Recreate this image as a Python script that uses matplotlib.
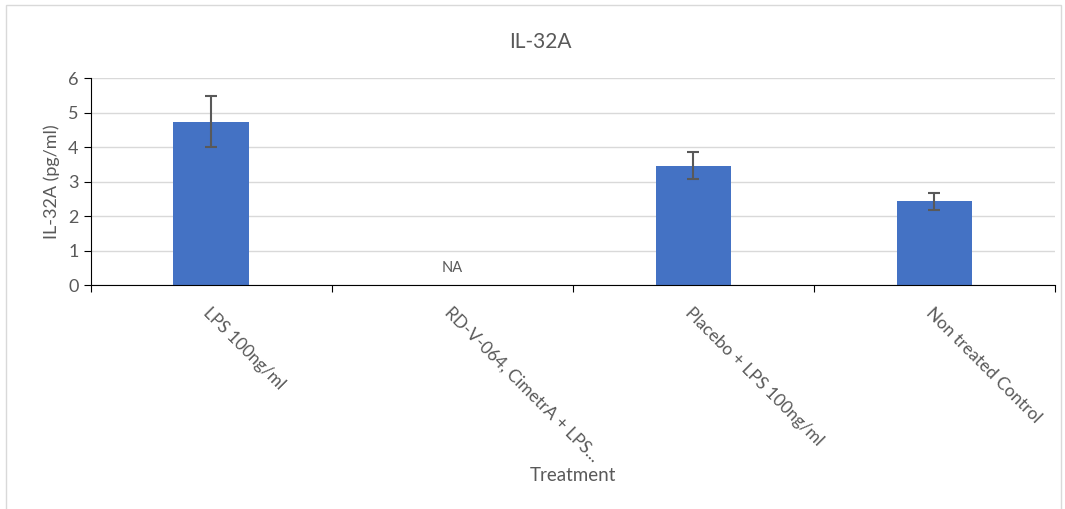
import numpy as np
import matplotlib.pyplot as plt
from matplotlib.patches import Rectangle

plt.rcParams["font.family"] = ["Lato", "DejaVu Sans"]

categories = ["LPS 100ng/ml", "RD-V-064, CimetrA + LPS...",
              "Placebo + LPS 100ng/ml", "Non treated Control"]
values = [4.74, np.nan, 3.46, 2.43]
errors = [0.75, np.nan, 0.40, 0.25]
na_label = "NA"

grey = "#595959"
bar_colour = "#4472c4"


def main():
    fig = plt.figure(figsize=(10.65, 5.09), dpi=100)
    ax = fig.add_axes([0.0854, 0.44, 0.9052, 0.4067])

    x = np.arange(len(categories))
    ax.bar(x, values, width=0.315, color=bar_colour, zorder=2)
    ax.errorbar(x, values, yerr=errors, fmt='none', ecolor=grey,
                elinewidth=1.5, capsize=4, capthick=1.5, zorder=3)
    for i, v in enumerate(values):
        if np.isnan(v):
            ax.text(x[i], 0.5, na_label, ha='center', va='center',
                    fontsize=10.5, color=grey)

    ax.set_xlim(-0.5, len(categories) - 0.5)
    ax.set_ylim(0, 6)
    ax.set_yticks(range(7))
    ax.yaxis.grid(True, color='#d9d9d9', linewidth=1.0, zorder=0)
    ax.set_axisbelow(True)
    for s in ['top', 'right']:
        ax.spines[s].set_visible(False)
    ax.spines['left'].set_color('black')
    ax.spines['bottom'].set_color('black')

    # category boundary ticks on x, labels on centres
    ax.set_xticks(np.arange(-0.5, len(categories)), minor=False)
    ax.set_xticklabels([])
    ax.set_xticks(x, minor=True)
    ax.set_xticklabels(categories, minor=True, rotation=-45, ha='left',
                       va='top', rotation_mode='anchor', fontsize=12.5,
                       color=grey)
    ax.tick_params(axis='x', which='major', length=5, color='black')
    ax.tick_params(axis='x', which='minor', length=0, pad=14)
    ax.tick_params(axis='y', length=5, color='black', labelsize=13,
                   labelcolor=grey, pad=4)

    ax.set_ylabel('IL-32A (pg/ml)', fontsize=13, color=grey, labelpad=6)
    fig.text(0.538, 0.065, 'Treatment', ha='center', va='center',
             fontsize=13.5, color=grey)
    fig.text(0.507, 0.917, 'IL-32A', ha='center', va='center',
             fontsize=15, color=grey)

    fig.patches.append(Rectangle((0.006, -0.01), 0.99, 1.0, transform=fig.transFigure,
                                 fill=False, edgecolor='#d9d9d9', linewidth=1.0))

    plt.savefig('out.png', dpi=100)


if __name__ == "__main__":
    main()
